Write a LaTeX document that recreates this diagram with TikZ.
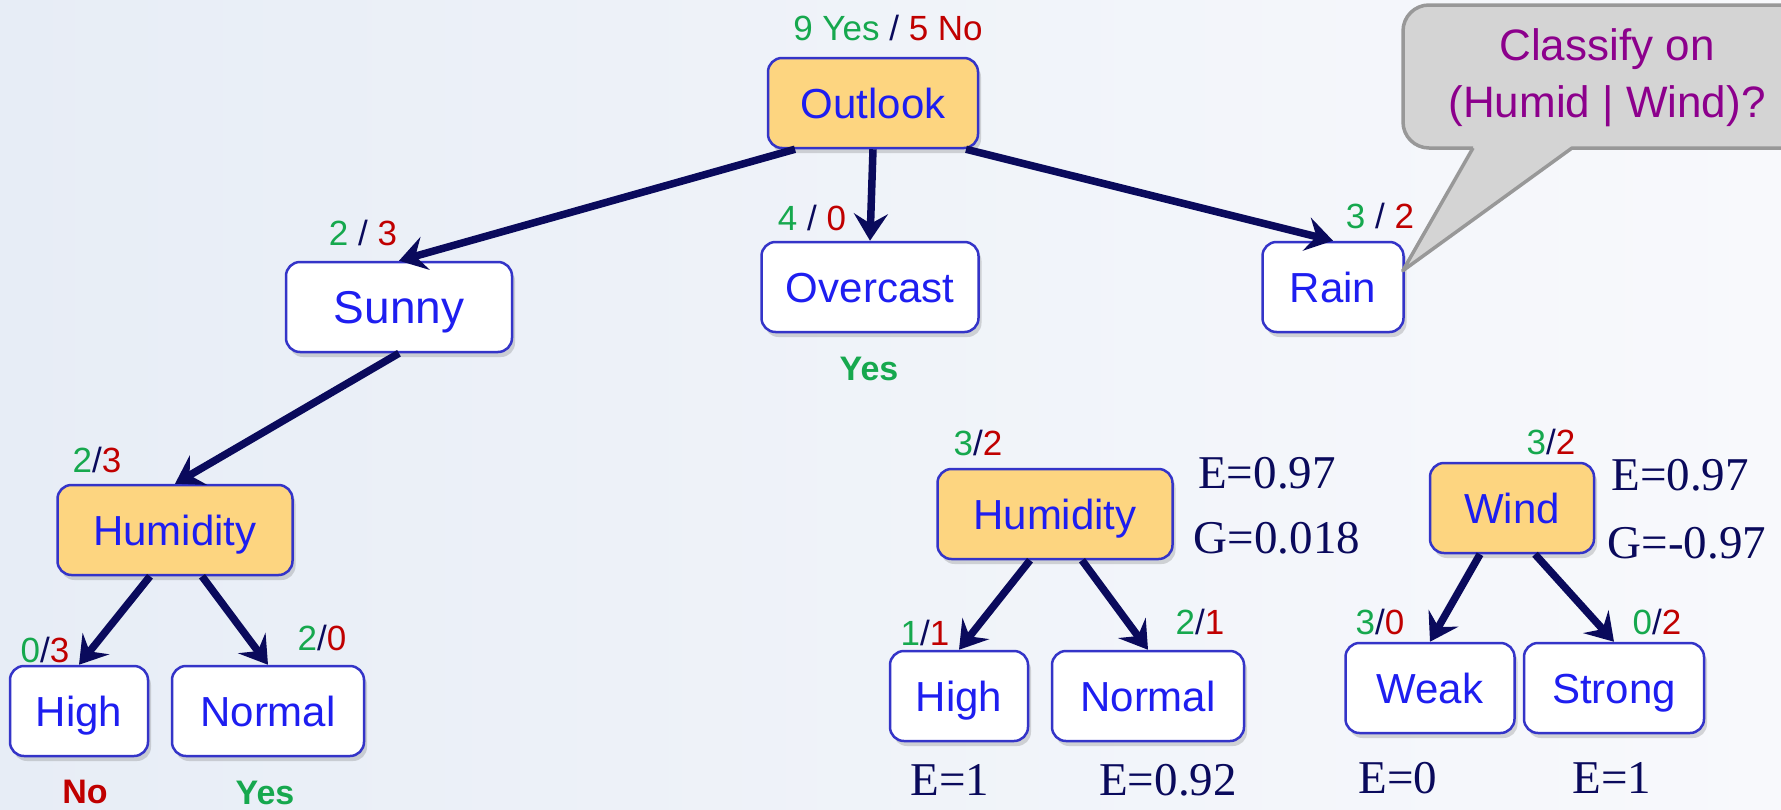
\documentclass[tikz,border=0pt]{standalone}
\usepackage{fontspec}
\setmainfont{Liberation Sans}
\newfontfamily\timesfont{Liberation Serif}
\usepackage{tikz}
\usetikzlibrary{arrows.meta,shadows}
\usepackage{xcolor}

\definecolor{bgleft}{RGB}{231,237,246}
\definecolor{bgright}{RGB}{248,249,252}
\definecolor{edgeblue}{RGB}{52,52,200}
\definecolor{textblue}{RGB}{30,30,240}
\definecolor{attrfill}{RGB}{253,213,128}
\definecolor{yesgreen}{RGB}{22,168,78}
\definecolor{nored}{RGB}{192,0,0}
\definecolor{navy}{RGB}{10,10,92}
\definecolor{calloutfill}{RGB}{212,212,212}
\definecolor{calloutedge}{RGB}{152,152,152}
\definecolor{askpurple}{RGB}{140,0,140}

\newcommand{\yn}[2]{\textcolor{yesgreen}{#1}/\textcolor{nored}{#2}}
\newcommand{\yns}[2]{\textcolor{yesgreen}{#1} / \textcolor{nored}{#2}}

\begin{document}
\begin{tikzpicture}[x=1pt, y=-1pt, every node/.style={font=\fontsize{42}{48}\selectfont}]
\tikzset{box/.style={draw=edgeblue, line width=2.5pt, rounded corners=14pt, fill=white, text=textblue, minimum height=90pt, inner sep=0pt, text height=30pt, text depth=0pt, drop shadow={shadow xshift=3pt, shadow yshift=-5pt, opacity=0.25, fill=black!60}}}
\tikzset{attr/.style={box, fill=attrfill}}
\tikzset{count/.style={text=navy, inner sep=0pt, font=\fontsize{35}{40}\selectfont}}
\tikzset{measure/.style={text=navy, inner sep=0pt, font=\timesfont\fontsize{47}{52}\selectfont}}
\tikzset{verdict/.style={inner sep=0pt, font=\bfseries\fontsize{34}{40}\selectfont}}
\tikzset{branch/.style={-{Stealth[length=27pt, width=34pt, inset=10pt]}, line width=7.5pt, draw=navy}}
\tikzset{callout/.style={fill=calloutfill, draw=calloutedge, line width=3.5pt, line join=round}}

\useasboundingbox (0,0) rectangle (1781,809);
\shade[left color=bgleft, right color=bgright] (0,0) rectangle (1781,809);

% root and first split
\node[attr, minimum width=210pt] (outlook) at (873,103) {Outlook};
\node[count] (outlookcnt) at (888,28) {\textcolor{yesgreen}{9 Yes} / \textcolor{nored}{5 No}};
\node[box, minimum width=226pt, text height=33pt, font=\fontsize{46}{52}\selectfont] (sunny) at (399,307) {Sunny};
\node[count] (sunnycnt) at (363,233) {\yns{2}{3}};
\node[box, minimum width=217pt] (overcast) at (870,287) {Overcast};
\node[count] (overcastcnt) at (812,218) {\yns{4}{0}};
\node[verdict, text=yesgreen] (overcastyes) at (869,369) {Yes};
\node[box, minimum width=141pt] (rain) at (1333,287) {Rain};
\node[count] (raincnt) at (1380,216) {\yns{3}{2}};

% sunny branch
\node[attr, minimum width=235pt] (humsun) at (175,530) {Humidity};
\node[count] (humsuncnt) at (97,460) {\yn{2}{3}};
\node[box, minimum width=138pt] (highsun) at (79,711) {High};
\node[count] (highsuncnt) at (45,650) {\yn{0}{3}};
\node[box, minimum width=192pt] (normsun) at (268,711) {Normal};
\node[count] (normsuncnt) at (322,638) {\yn{2}{0}};
\node[verdict, text=nored] (highsunno) at (85,792) {No};
\node[verdict, text=yesgreen] (normsunyes) at (265,793) {Yes};

% rain: humidity candidate
\node[attr, minimum width=235pt] (humrain) at (1055,514) {Humidity};
\node[count] (humraincnt) at (978,443) {\yn{3}{2}};
\node[measure] (humrainE) at (1267,473) {E=0.97};
\node[measure] (humrainG) at (1277,538) {G=0.018};
\node[box, minimum width=138pt] (highrain) at (959,696) {High};
\node[count] (highraincnt) at (925,633) {\yn{1}{1}};
\node[box, minimum width=192pt] (normrain) at (1148,696) {Normal};
\node[count] (normraincnt) at (1200,622) {\yn{2}{1}};
\node[measure] (highrainE) at (950,780) {E=1};
\node[measure] (normrainE) at (1168,780) {E=0.92};

% rain: wind candidate
\node[attr, minimum width=164pt] (wind) at (1512,508) {Wind};
\node[count] (windcnt) at (1551,442) {\yn{3}{2}};
\node[measure] (windE) at (1680,475) {E=0.97};
\node[measure] (windG) at (1687,543) {G=-0.97};
\node[box, minimum width=169pt] (weak) at (1430,688) {Weak};
\node[count] (weakcnt) at (1380,622) {\yn{3}{0}};
\node[box, minimum width=180pt] (strong) at (1614,688) {Strong};
\node[count] (strongcnt) at (1657,622) {\yn{0}{2}};
\node[measure] (weakE) at (1398,778) {E=0};
\node[measure] (strongE) at (1612,778) {E=1};

\draw[branch] ([xshift=-78pt]outlook.south) -- (sunny.north);
\draw[branch] (outlook.south) -- (overcast.north);
\draw[branch] ([xshift=93pt]outlook.south) -- (rain.north);
\draw[branch] (sunny.south) -- (humsun.north);
\draw[branch] ([xshift=-25pt]humsun.south) -- (highsun.north);
\draw[branch] ([xshift=27pt]humsun.south) -- (normsun.north);
\draw[branch] ([xshift=-25pt]humrain.south) -- (highrain.north);
\draw[branch] ([xshift=27pt]humrain.south) -- (normrain.north);
\draw[branch] ([xshift=-32pt]wind.south) -- (weak.north);
\draw[branch] ([xshift=23pt]wind.south) -- (strong.north);

% speech bubble
\coordinate (tip) at ([xshift=-2pt,yshift=-30pt]rain.north east);
\draw[callout] (1473,148) -- (tip) -- (1572,148) [rounded corners=26pt] -- (1830,148) -- (1830,5) -- (1403,5) -- (1403,148) -- (1473,148);
\node[text=askpurple, align=center, font=\fontsize{44}{57}\selectfont] (ask) at (1607,78) {Classify on\\(Humid | Wind)?};
\end{tikzpicture}
\end{document}
